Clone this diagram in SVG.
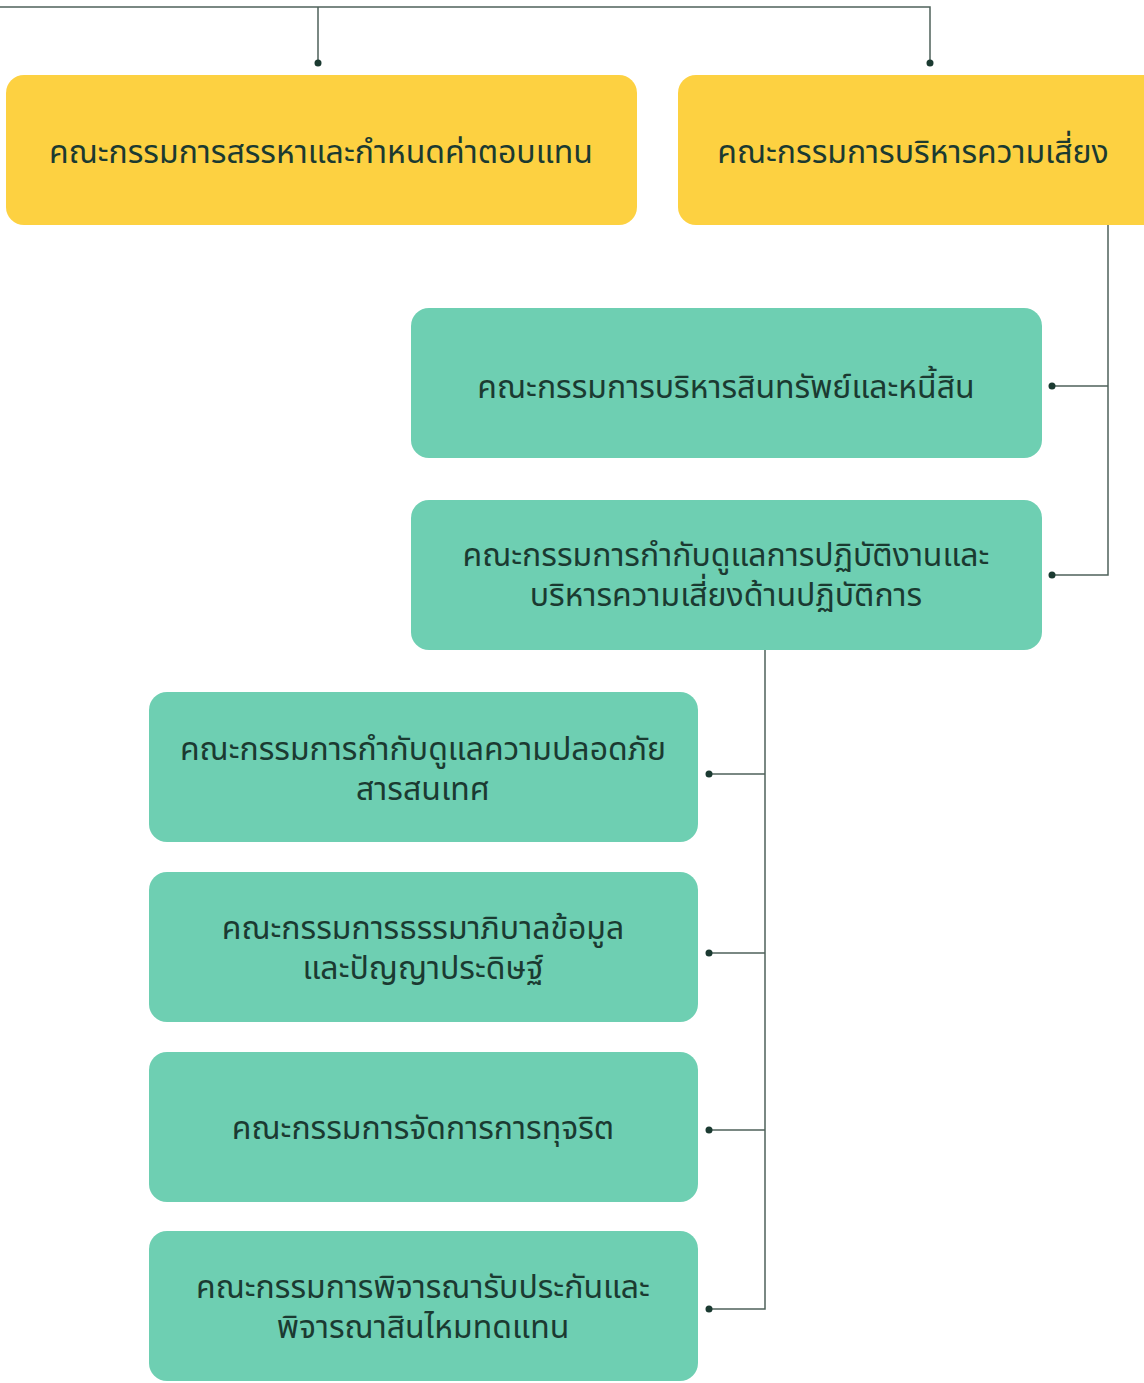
<svg xmlns="http://www.w3.org/2000/svg" width="1144" height="1383" viewBox="0 0 1144 1383">
<style>
.y{fill:#FDD141}
.g{fill:#6ECFB2}
.t{font-family:"Noto Sans Thai","Noto Sans Thai UI","Noto Sans","Liberation Sans",sans-serif;font-size:32px;fill:#1B3A31;text-anchor:middle;dominant-baseline:central}
.c{fill:none;stroke:#4F625B;stroke-width:1.5}
.d{fill:#1B3A31}
</style>
<rect width="1144" height="1383" fill="#fff"/>
<g id="connectors">
<path class="c" d="M0 7H930V63M318 7V63"/>
<circle class="d" cx="318" cy="63" r="3.5"/>
<circle class="d" cx="930" cy="63" r="3.5"/>
<path class="c" d="M1108 225V575H1052M1108 386H1052"/>
<circle class="d" cx="1052" cy="386" r="3.5"/>
<circle class="d" cx="1052" cy="575" r="3.5"/>
<path class="c" d="M765 650V1309H709M765 774H709M765 953H709M765 1130H709"/>
<circle class="d" cx="709" cy="774" r="3.5"/>
<circle class="d" cx="709" cy="953" r="3.5"/>
<circle class="d" cx="709" cy="1130" r="3.5"/>
<circle class="d" cx="709" cy="1309" r="3.5"/>
</g>
<g id="n1"><rect class="y" x="6" y="75" width="631" height="150" rx="18"/><text class="t" x="321" y="153">คณะกรรมการสรรหาและกำหนดค่าตอบแทน</text></g>
<g id="n2"><rect class="y" x="678" y="75" width="490" height="150" rx="18"/><text class="t" x="913" y="153">คณะกรรมการบริหารความเสี่ยง</text></g>
<g id="n3"><rect class="g" x="411" y="308" width="631" height="150" rx="18"/><text class="t" x="726" y="388">คณะกรรมการบริหารสินทรัพย์และหนี้สิน</text></g>
<g id="n4"><rect class="g" x="411" y="500" width="631" height="150" rx="18"/><text class="t" x="726" y="556">คณะกรรมการกำกับดูแลการปฏิบัติงานและ</text><text class="t" x="726" y="596">บริหารความเสี่ยงด้านปฏิบัติการ</text></g>
<g id="n5"><rect class="g" x="149" y="692" width="549" height="150" rx="18"/><text class="t" x="423" y="750">คณะกรรมการกำกับดูแลความปลอดภัย</text><text class="t" x="423" y="790">สารสนเทศ</text></g>
<g id="n6"><rect class="g" x="149" y="872" width="549" height="150" rx="18"/><text class="t" x="423" y="929">คณะกรรมการธรรมาภิบาลข้อมูล</text><text class="t" x="423" y="969">และปัญญาประดิษฐ์</text></g>
<g id="n7"><rect class="g" x="149" y="1052" width="549" height="150" rx="18"/><text class="t" x="423" y="1129">คณะกรรมการจัดการการทุจริต</text></g>
<g id="n8"><rect class="g" x="149" y="1231" width="549" height="150" rx="18"/><text class="t" x="423" y="1288">คณะกรรมการพิจารณารับประกันและ</text><text class="t" x="423" y="1328">พิจารณาสินไหมทดแทน</text></g>
</svg>
